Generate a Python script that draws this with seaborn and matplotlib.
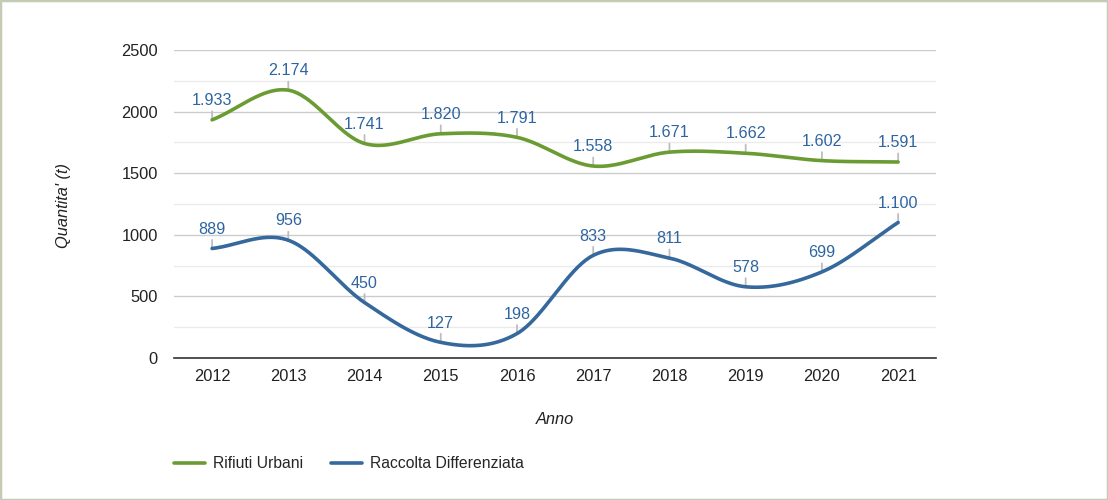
import numpy as np
import pandas as pd
import matplotlib
matplotlib.use("Agg")
import matplotlib.pyplot as plt
from matplotlib.patches import Rectangle
from matplotlib.lines import Line2D
import seaborn as sns

# --- data ---
anni = ["2012", "2013", "2014", "2015", "2016", "2017", "2018", "2019", "2020", "2021"]
rifiuti_urbani = [1933, 2174, 1741, 1820, 1791, 1558, 1671, 1662, 1602, 1591]
raccolta_diff = [889, 956, 450, 127, 198, 833, 811, 578, 699, 1100]
serie_nomi = ["Rifiuti Urbani", "Raccolta Differenziata"]

VERDE = "#6b9c33"
BLU = "#35689c"
TXT_BLU = "#2e65a0"


def catmull_rom(y, n=40):
    """smooth curve through the points (like the 'function' curve type)"""
    y = np.asarray(y, dtype=float)
    m = np.zeros_like(y)
    m[1:-1] = (y[2:] - y[:-2]) / 2
    m[0] = y[1] - y[0]
    m[-1] = y[-1] - y[-2]
    xs, ys = [], []
    for i in range(len(y) - 1):
        t = np.linspace(0, 1, n, endpoint=False)
        h00 = 2 * t**3 - 3 * t**2 + 1
        h10 = t**3 - 2 * t**2 + t
        h01 = -2 * t**3 + 3 * t**2
        h11 = t**3 - t**2
        xs.append(i + t)
        ys.append(h00 * y[i] + h10 * m[i] + h01 * y[i + 1] + h11 * m[i + 1])
    xs.append([len(y) - 1])
    ys.append([y[-1]])
    return np.concatenate(xs), np.concatenate(ys)


sns.set_theme(style="white")
plt.rcParams["font.family"] = ["Liberation Sans", "DejaVu Sans"]

fig = plt.figure(figsize=(11.08, 5.0), dpi=100)
ax = fig.add_axes([0.157, 0.284, 0.688, 0.616])

frames = []
for nome, vals in zip(serie_nomi, [rifiuti_urbani, raccolta_diff]):
    sx, sy = catmull_rom(vals)
    frames.append(pd.DataFrame({"x": sx, "y": sy, "serie": nome}))
df = pd.concat(frames, ignore_index=True)

# leader lines + labels (drawn below the curves)
for vals in [rifiuti_urbani, raccolta_diff]:
    for i, v in enumerate(vals):
        lab = f"{v:,}".replace(",", ".")
        ax.annotate(lab, xy=(i, v), xytext=(0, 8.5), textcoords="offset points",
                    ha="center", va="bottom", fontsize=11.6, color=TXT_BLU, zorder=2,
                    arrowprops=dict(arrowstyle="-", color="#bdbdbd", lw=1.3,
                                    shrinkA=0, shrinkB=0, relpos=(0.5, 0.0)))

sns.lineplot(data=df, x="x", y="y", hue="serie", palette=[VERDE, BLU],
             linewidth=2.6, ax=ax, legend=False, zorder=3, sort=False,
             estimator=None)

ax.set_xlim(-0.5, len(anni) - 0.5)
ax.set_ylim(0, 2500)
ax.set_xticks(range(len(anni)))
ax.set_xticklabels(anni)
ax.set_yticks(np.arange(0, 2501, 500))
ax.set_yticks(np.arange(250, 2500, 500), minor=True)
ax.grid(axis="y", which="major", color="#cccccc", lw=1, zorder=0)
ax.grid(axis="y", which="minor", color="#ebebeb", lw=1, zorder=0)
ax.grid(axis="x", visible=False)
ax.set_axisbelow(True)
for s in ["top", "right", "left"]:
    ax.spines[s].set_visible(False)
ax.spines["bottom"].set_color("#333333")
ax.spines["bottom"].set_linewidth(1.2)
ax.tick_params(axis="both", which="both", length=0, labelsize=11.8,
               labelcolor="#222222")
ax.tick_params(axis="x", pad=8)
ax.tick_params(axis="y", pad=11.5)

ax.set_xlabel("")
ax.set_ylabel("")
fig.text(0.057, 0.59, "Quantita' (t)", rotation=90, ha="center", va="center",
         fontsize=11.8, style="italic", color="#222222")
fig.text(0.501, 0.16, "Anno", ha="center", va="center",
         fontsize=11.8, style="italic", color="#222222")

# legend
handles = [Line2D([], [], color=VERDE, lw=2.6), Line2D([], [], color=BLU, lw=2.6)]
fig.legend(handles, serie_nomi, loc="center left", bbox_to_anchor=(0.144, 0.073),
           ncol=2, frameon=False, fontsize=11.3, handlelength=2.0,
           handletextpad=0.5, columnspacing=1.75)

# outer border
fig.patches.append(Rectangle((0, 0), 1, 1, transform=fig.transFigure,
                             fill=False, edgecolor="#c3cbb5", lw=2.5))

fig.savefig("out.png", dpi=100)
